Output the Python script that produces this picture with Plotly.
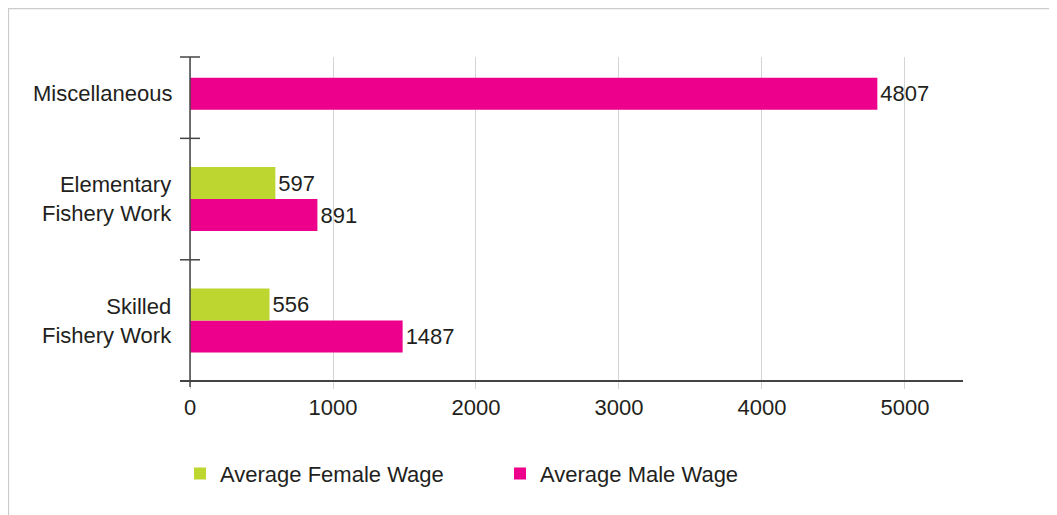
import plotly.graph_objects as go

categories = ["Skilled<br>Fishery Work", "Elementary<br>Fishery Work", "Miscellaneous"]
female_wage = [556, 597, None]
male_wage = [1487, 891, 4807]
x_tick_values = [0, 1000, 2000, 3000, 4000, 5000]

FONT = "Liberation Sans, Arial, sans-serif"
FS = 22
TXT = "#231f20"
PINK = "#ec008c"
GREEN = "#bed630"
BARGAP = 0.473

fig = go.Figure()
fig.add_trace(go.Bar(
    y=categories, x=male_wage, orientation="h", name="Average Male Wage",
    marker=dict(color=PINK, line=dict(width=0)), legendrank=2,
    text=male_wage, texttemplate="%{x}", textposition="outside",
    textfont=dict(family=FONT, size=FS, color=TXT), cliponaxis=False,
))
fig.add_trace(go.Bar(
    y=categories, x=female_wage, orientation="h", name="Average Female Wage",
    marker=dict(color=GREEN, line=dict(width=0)), legendrank=1,
    text=female_wage, texttemplate="%{x}", textposition="outside",
    textfont=dict(family=FONT, size=FS, color=TXT), cliponaxis=False,
))

fig.update_layout(
    width=1057, height=515,
    margin=dict(l=172, r=102, t=49, b=143),
    paper_bgcolor="white", plot_bgcolor="white",
    barmode="group", bargap=BARGAP, bargroupgap=0,
    font=dict(family=FONT, size=FS, color=TXT),
    showlegend=True,
    legend=dict(orientation="h", x=0, xanchor="left", y=-0.29, yanchor="middle",
                traceorder="normal", entrywidth=275, entrywidthmode="pixels",
                font=dict(family=FONT, size=FS, color=TXT)),
    xaxis=dict(range=[-70, 5406], tickvals=x_tick_values,
               showgrid=True, gridcolor="#d4d4d4", gridwidth=1,
               zeroline=False, showline=True, linecolor="#444", linewidth=1.5,
               ticks="outside", ticklen=7, tickcolor="#d4d4d4",
               tickfont=dict(family=FONT, size=FS, color=TXT)),
    yaxis=dict(type="category", categoryorder="array", categoryarray=categories,
               range=[-0.49, 2.17], showgrid=False,
               zeroline=False, showline=False, ticks="", showticklabels=False),
)

# category labels (centred on the drawn bars)
half_bar = (1 - BARGAP) / 4
for i, (cat, f) in enumerate(zip(categories, female_wage)):
    ypos = i if f is not None else i - half_bar
    fig.add_annotation(text=cat, xref="paper", yref="y", x=-0.0077, y=ypos,
                       xanchor="right", yanchor="middle", align="right",
                       showarrow=False, font=dict(family=FONT, size=FS, color=TXT))

shapes = []
# vertical axis line at x = 0
shapes.append(dict(type="line", xref="x", yref="paper", x0=0, x1=0, y0=-0.022, y1=1,
                   line=dict(color="#444", width=1.5)))
# category boundary ticks
for yb in [0.5, 1.5]:
    shapes.append(dict(type="line", xref="x", yref="y", x0=-70, x1=70, y0=yb, y1=yb,
                       line=dict(color="#444", width=1.5)))
shapes.append(dict(type="line", xref="x", yref="paper", x0=-70, x1=70, y0=1, y1=1,
                   line=dict(color="#444", width=1.5)))
# outer frame (top and left)
shapes.append(dict(type="line", xref="paper", yref="paper", x0=-0.2197, x1=1.2, y0=1.151, y1=1.151,
                   line=dict(color="#cccccc", width=2)))
shapes.append(dict(type="line", xref="paper", yref="paper", x0=-0.2195, x1=-0.2195, y0=1.151, y1=-0.5,
                   line=dict(color="#cccccc", width=2)))
fig.update_layout(shapes=shapes)

fig.write_html("out.html")
